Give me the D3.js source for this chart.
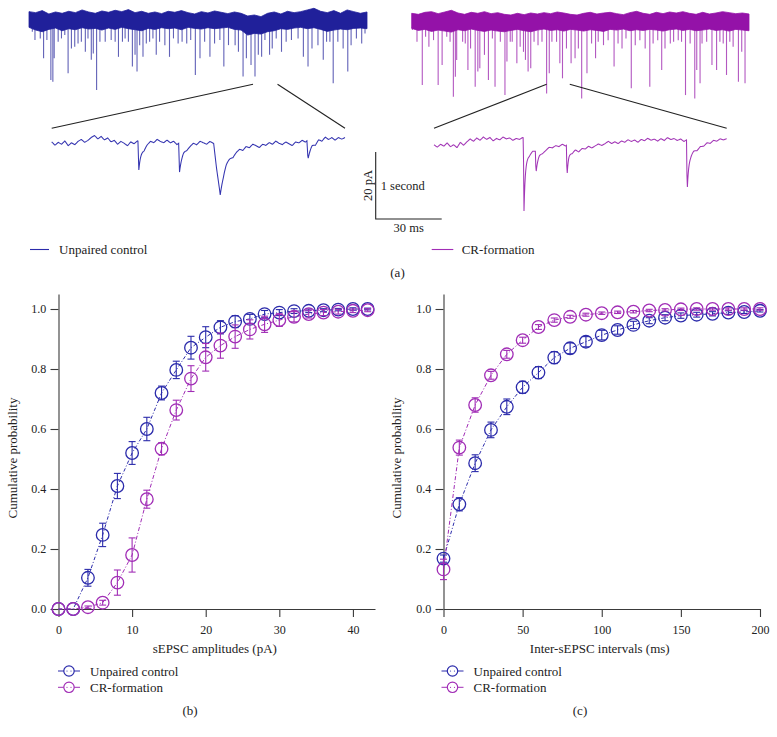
<!DOCTYPE html>
<html><head><meta charset="utf-8">
<script src="https://cdn.jsdelivr.net/npm/d3@7"></script>
<style>
html,body{margin:0;padding:0;background:#fff;}
</style></head>
<body><svg id="fig" width="777" height="737" font-family="'Liberation Serif','DejaVu Serif','Times New Roman',serif"></svg>
<script>
// ---------------- DATA ----------------
// Panel (b): cumulative probability vs sEPSC amplitude (pA)
const ampX = [0,2,4,6,8,10,12,14,16,18,20,22,24,26,28,30,32,34,36,38,40,42];
const ampCtrl    = [0,0,0.104,0.247,0.41,0.52,0.60,0.72,0.797,0.871,0.906,0.939,0.958,0.967,0.983,0.988,0.993,0.994,0.996,0.998,1.0,1.0];
const ampCtrlErr = [0,0,0.028,0.039,0.042,0.038,0.039,0.023,0.029,0.038,0.035,0.022,0.02,0.015,0.012,0.01,0.008,0.006,0.005,0.004,0.004,0.003];
const ampCR      = [0,0,0.006,0.021,0.088,0.18,0.366,0.534,0.663,0.768,0.839,0.878,0.908,0.932,0.949,0.963,0.974,0.983,0.988,0.991,0.994,0.996];
const ampCRErr   = [0,0,0.004,0.008,0.042,0.057,0.03,0.02,0.033,0.043,0.046,0.042,0.039,0.032,0.027,0.021,0.017,0.013,0.01,0.008,0.006,0.005];
const ampTicks = [0,10,20,30,40];

// Panel (c): cumulative probability vs inter-sEPSC interval (ms)
const intX = [0,10,20,30,40,50,60,70,80,90,100,110,120,130,140,150,160,170,180,190,200];
const intCtrl    = [0.168,0.349,0.486,0.597,0.674,0.739,0.788,0.838,0.869,0.891,0.913,0.93,0.947,0.961,0.971,0.978,0.981,0.984,0.988,0.99,0.994];
const intCtrlErr = [0.012,0.022,0.028,0.026,0.026,0.02,0.02,0.02,0.018,0.017,0.016,0.014,0.012,0.01,0.01,0.009,0.008,0.007,0.006,0.005,0.004];
const intCR      = [0.132,0.538,0.68,0.779,0.849,0.896,0.94,0.963,0.974,0.981,0.986,0.989,0.991,0.995,0.997,0.999,1.0,1.0,1.0,1.0,1.0];
const intCRErr   = [0.034,0.025,0.024,0.013,0.013,0.01,0.008,0.007,0.005,0.005,0.004,0.004,0.004,0.004,0.004,0.004,0.004,0.004,0.004,0.004,0.004];
const intTicks = [0,50,100,150,200];
const probTicks = [0,0.2,0.4,0.6,0.8,1.0];

const seriesNames = ["Unpaired control","CR-formation"];

// Panel (a): long recordings (time in s, current in pA relative to baseline), envelope every 0.1 s
const bandStep = 0.1;
const ctrlBandTop = [2.5,2.2,2.8,1.8,2.4,2.0,2.6,2.2,3.0,2.4,2.0,2.7,2.3,2.9,2.5,3.1,2.2,2.6,2.0,2.4,1.9,2.6,2.3,2.8,2.2,1.8,2.5,2.1,2.7,2.3,1.9,2.4,2.0,1.2,1.5,1.0,2.0,2.4,1.8,2.6,2.2,2.5,3.0,3.5,2.6,2.2,2.8,2.0,3.0,2.5,2.0,2.4];
const ctrlBandBot = [-2.2,-3.0,-3.5,-2.8,-2.4,-3.2,-2.6,-2.9,-2.3,-2.7,-2.5,-3.0,-2.4,-2.8,-2.2,-2.6,-2.9,-3.2,-2.5,-2.8,-2.3,-2.6,-2.4,-2.9,-2.2,-2.5,-2.7,-2.3,-2.6,-2.4,-2.2,-2.8,-3.0,-4.5,-4.0,-4.2,-3.5,-3.2,-2.6,-2.8,-2.4,-2.2,-2.6,-2.3,-2.8,-3.4,-3.0,-2.7,-2.9,-2.5,-2.4,-2.6];
const crBandTop = [2.5,2.2,2.8,3.0,2.4,2.9,3.4,2.6,2.2,2.8,2.5,3.0,2.4,2.7,2.2,2.0,2.5,2.1,2.6,2.3,2.7,2.4,2.9,2.6,2.2,2.0,2.5,2.8,2.3,2.6,2.8,2.4,2.1,2.7,3.1,2.5,2.2,2.8,2.4,2.9,2.6,3.0,2.5,2.2,2.8,2.3,2.6,3.0,2.7,2.4,2.6,2.3];
const crBandBot = [-2.0,-2.6,-2.3,-2.9,-2.5,-2.8,-3.1,-2.4,-2.7,-2.2,-2.6,-2.9,-2.5,-2.8,-3.0,-2.6,-2.3,-2.7,-3.0,-2.5,-2.2,-2.6,-2.4,-2.8,-2.3,-2.5,-2.8,-2.4,-2.6,-2.9,-2.3,-2.5,-2.2,-2.7,-2.4,-2.6,-2.3,-2.5,-2.8,-2.4,-2.2,-2.6,-2.3,-2.7,-2.5,-2.2,-2.6,-2.4,-2.8,-2.3,-2.5,-2.7];

const ctrlSpikeT = [0.05,0.09,0.17,0.22,0.27,0.33,0.36,0.38,0.44,0.49,0.54,0.59,0.64,0.69,0.74,0.79,0.85,0.89,0.94,0.97,1.02,1.07,1.15,1.24,1.30,1.35,1.41,1.45,1.50,1.56,1.60,1.63,1.67,1.72,1.77,1.82,1.87,1.92,1.97,2.05,2.12,2.18,2.25,2.31,2.38,2.44,2.51,2.58,2.65,2.73,2.80,2.88,2.94,3.01,3.11,3.16,3.23,3.28,3.35,3.41,3.46,3.51,3.56,3.63,3.67,3.73,3.81,3.88,3.96,4.06,4.14,4.21,4.27,4.36,4.44,4.49,4.54,4.59,4.66,4.74,4.81,4.86,4.94,5.02,5.07];
const ctrlSpikeAmp = [3.5,6.0,5.5,11.4,6.0,17.9,18.4,11.4,6.5,5.5,4.5,15.9,8.5,8.0,7.0,6.5,9.5,5.5,11.9,10.0,20.9,6.5,6.5,6.0,6.5,11.0,6.5,5.5,6.5,13.9,10.4,15.4,7.5,11.0,7.0,6.5,5.5,10.4,6.5,7.5,11.0,5.5,7.0,6.5,7.0,6.0,16.4,11.4,6.5,11.0,7.0,6.0,13.9,7.5,7.5,9.5,16.9,11.4,13.4,16.9,10.4,11.0,6.0,10.4,8.5,5.5,9.5,6.5,6.0,5.5,11.0,13.9,8.5,7.5,11.9,6.5,6.5,18.9,6.5,8.5,15.4,7.5,5.5,7.0,4.0];

const crSpikeT = [0.01,0.08,0.16,0.21,0.26,0.33,0.40,0.46,0.53,0.58,0.63,0.66,0.68,0.77,0.81,0.85,0.89,0.96,1.00,1.03,1.10,1.16,1.22,1.26,1.34,1.41,1.44,1.49,1.52,1.59,1.64,1.69,1.72,1.76,1.80,1.85,1.91,1.97,2.04,2.08,2.12,2.19,2.24,2.28,2.34,2.41,2.47,2.52,2.57,2.65,2.72,2.78,2.82,2.90,2.97,3.06,3.12,3.18,3.24,3.32,3.38,3.45,3.53,3.60,3.65,3.72,3.78,3.83,3.91,3.96,4.03,4.08,4.14,4.21,4.28,4.31,4.36,4.39,4.46,4.54,4.61,4.66,4.71,4.76,4.81,4.86,4.94,4.99,5.04];
const crSpikeAmp = [2.5,6.0,18.9,4.5,7.5,5.5,18.9,12.9,4.5,6.0,22.4,16.4,11.4,6.0,6.5,14.4,8.0,19.4,14.9,13.9,9.9,17.4,5.0,19.4,6.0,21.9,11.9,6.0,6.0,12.4,7.5,9.0,11.4,14.9,13.9,6.0,7.0,6.0,21.4,15.4,6.0,6.0,12.4,16.9,8.0,12.4,10.9,8.0,22.9,15.4,6.5,10.9,6.0,7.0,5.5,13.4,6.5,8.0,5.0,19.9,7.0,5.5,8.0,19.4,6.5,5.5,14.4,8.0,6.5,6.0,5.5,6.0,21.9,6.5,22.9,14.4,18.4,6.5,6.0,12.9,14.4,6.0,6.5,15.9,6.0,7.5,17.9,9.0,18.4];

// zoom windows on the long recordings (s)
const ctrlZoomWin = [3.38,3.75];
const crZoomWin = [2.04,2.39];

// inset baseline noise (pA), evenly spaced over the inset duration
const insetNoiseCtrl = [0.3,-0.4,0.2,-0.2,0.5,-0.5,0.1,-0.3,0.4,0.8,0.2,0.6,1.2,1.6,0.9,1.4,0.7,1.1,0.3,0.6,-0.2,0.4,0.0,-0.5,0.3,-0.1,0.5,0.2,-0.4,0.4,0.9,0.5,1.1,0.6,0.3,0.8,0.2,0.5,-0.2,0.3,0.6,0.1,0.5,0.9,0.4,1.0,0.6,0.2,0.7,0.3,-0.2,0.4,0.1,0.6,0.3,-0.3,0.2,0.5,0.0,0.6,0.2,0.8,0.4,-0.1,0.5,0.2,0.7,0.3,0.9,0.4,0.1,0.6,0.2,-0.2,0.5,0.3,0.8,0.4,1.0,1.5,0.9,1.7,1.2,1.9,1.3,1.6,1.0,1.5,1.1,1.4];
const insetNoiseCR = [-0.3,-0.8,-0.2,-0.6,0.1,-0.7,-0.3,-0.9,0.2,-0.4,0.3,0.9,0.4,1.1,0.6,1.3,0.8,1.2,0.5,1.0,0.7,1.3,0.9,1.1,0.6,1.0,0.8,1.2,0.7,0.4,0.9,0.5,1.0,0.6,0.8,1.1,0.7,0.9,0.5,0.8,0.3,0.7,0.1,0.5,-0.2,0.3,0.0,0.4,-0.1,0.2,0.5,0.1,0.4,0.8,0.3,0.6,0.2,0.7,0.4,0.9,0.5,0.8,0.3,0.9,0.6,1.1,0.7,0.9,0.5,1.0,0.6,1.2,0.8,1.0,0.6,0.9,0.4,0.8,0.3,0.6,0.2,0.7,0.5,1.0,0.7,1.2,0.9,1.3,1.0,1.2];

// inset events: onset (ms), amplitude (pA), rise (ms), fast tau (ms), slow fraction, slow tau (ms)
const ctrlEvT = [39.4,58.0,74.0,116.6];
const ctrlEvAmp = [8.5,8.8,15.7,5.8];
const ctrlEvRise = [0.4,0.4,3.0,0.5];
const ctrlEvTau = [1.0,1.4,2.5,1.5];
const ctrlEvSlow = [0.2,0.3,0.25,0.35];
const ctrlEvTauSlow = [6,8,14,8];

const crEvT = [40.9,46.4,60.6,115.6];
const crEvAmp = [21.7,6.5,9.5,15.7];
const crEvRise = [0.3,0.3,0.3,0.3];
const crEvTau = [0.6,0.8,0.6,0.7];
const crEvSlow = [0.25,0.35,0.3,0.3];
const crEvTauSlow = [10,8,10,7];

const insetDur = 134; // ms

// ---------------- DRAW ----------------
const FONT = "'Liberation Serif','DejaVu Serif','Times New Roman',serif";
const svg = d3.select("#fig");
const BLUE = "#2b2bab", MAG = "#a12db6";
const BLUE_T = "#20209a", MAG_T = "#9412a8";
const AX = "#3a3a3a";
function txt(sel){ return sel.style("font-family",FONT).attr("fill","#222"); }

// ===== Panel (a) =====
function longTrace(x0, x1, base, bandTop, bandBot, spT, spA, col) {
  const x = d3.scaleLinear().domain([0,5.1]).range([x0,x1]);
  const y = d3.scaleLinear().domain([-25,5]).range([base+25*3.35, base-5*3.35]);
  const g = svg.append("g");
  g.selectAll("line.sp").data(spT.map((t,i)=>({t,a:spA[i]}))).join("line")
    .attr("x1",d=>x(d.t)).attr("x2",d=>x(d.t))
    .attr("y1",y(-1.5)).attr("y2",d=>y(-d.a))
    .attr("stroke",col).attr("stroke-width",1.1).attr("opacity",0.7);
  const area = d3.area().x(d=>x(d.t)).y0(d=>y(d.b)).y1(d=>y(d.top)).curve(d3.curveLinear);
  g.append("path").datum(bandTop.map((v,i)=>({t:i*bandStep,top:v,b:bandBot[i]})))
    .attr("d",area).attr("fill",col).attr("stroke",col).attr("stroke-width",0.8);
  return {x,y};
}
function evSum(t, T, A, R, TF, SF, TS){
  let v=0;
  for(let i=0;i<T.length;i++){
    const dt=t-T[i];
    if(dt<0) continue;
    if(dt<R[i]) v -= A[i]*dt/R[i];
    else { const d=dt-R[i]; v -= A[i]*((1-SF[i])*Math.exp(-d/TF[i]) + SF[i]*Math.exp(-d/TS[i])); }
  }
  return v;
}
function insetTrace(x0, x1, base, noise, T, A, R, TF, SF, TS, col){
  const x = d3.scaleLinear().domain([0,insetDur]).range([x0,x1]);
  const y = d3.scaleLinear().domain([-25,5]).range([base+25*3.35, base-5*3.35]);
  const nx = d3.scaleLinear().domain([0,insetDur]).range([0,noise.length-1]);
  const pts=[];
  for(let t=0;t<=insetDur+1e-6;t+=0.2){
    const f=nx(t), i=Math.floor(f), fr=f-i;
    const n = i>=noise.length-1 ? noise[noise.length-1] : noise[i]*(1-fr)+noise[i+1]*fr;
    pts.push([t, n*1.45 + evSum(t,T,A,R,TF,SF,TS)]);
  }
  svg.append("path").datum(pts).attr("d", d3.line().x(d=>x(d[0])).y(d=>y(d[1])))
    .attr("fill","none").attr("stroke",col).attr("stroke-width",1.05);
  return {x,y};
}
const Lc = longTrace(29, 367, 20, ctrlBandTop, ctrlBandBot, ctrlSpikeT, ctrlSpikeAmp, BLUE_T);
const Lr = longTrace(411.7, 749, 21.7, crBandTop, crBandBot, crSpikeT, crSpikeAmp, MAG_T);
const Ic = insetTrace(51.7, 345, 143.3, insetNoiseCtrl, ctrlEvT, ctrlEvAmp, ctrlEvRise, ctrlEvTau, ctrlEvSlow, ctrlEvTauSlow, "#3434b0");
const Ir = insetTrace(434, 726.7, 143.3, insetNoiseCR, crEvT, crEvAmp, crEvRise, crEvTau, crEvSlow, crEvTauSlow, "#a236b6");

// zoom guide lines
function guides(L, I, win, yTop){
  [[win[0],0],[win[1],insetDur]].forEach(([t,ti])=>{
    svg.append("line").attr("x1",L.x(t)).attr("y1",L.y(yTop))
      .attr("x2",I.x(ti)).attr("y2",I.y(4.5))
      .attr("stroke","#222").attr("stroke-width",1.1);
  });
}
guides(Lc, Ic, ctrlZoomWin, -19.2);
guides(Lr, Ir, crZoomWin, -18.7);

// scale bar (20 pA, 30 ms / 1 s)
const sbx = 375.7, sby = 219;
svg.append("path").attr("d",`M${sbx},${sby-20*3.35}V${sby}H${sbx+30*2.2}`)
  .attr("fill","none").attr("stroke","#222").attr("stroke-width",1.1);
txt(svg.append("text").attr("transform",`translate(${sbx-4},${sby-20*3.35/2}) rotate(-90)`)
  .attr("text-anchor","middle").attr("font-size",12.5).text("20 pA"));
txt(svg.append("text").attr("x",sbx+5).attr("y",190).attr("font-size",12.5).text("1 second"));
txt(svg.append("text").attr("x",sbx+33).attr("y",232).attr("text-anchor","middle").attr("font-size",12.5).text("30 ms"));

// top legends
[[30,49,59,BLUE,seriesNames[0]],[431.7,453.3,461.7,MAG,seriesNames[1]]].forEach(([a,b,tx,c,name])=>{
  svg.append("line").attr("x1",a).attr("x2",b).attr("y1",249.5).attr("y2",249.5).attr("stroke",c).attr("stroke-width",1.1);
  txt(svg.append("text").attr("x",tx).attr("y",253.5).attr("font-size",13).text(name));
});
txt(svg.append("text").attr("x",397.5).attr("y",276.5).attr("text-anchor","middle").attr("font-size",13).text("(a)"));

// ===== Panels (b) and (c) =====
function cdfPanel(opts){
  const x = d3.scaleLinear().domain(opts.xdom).range(opts.xr);
  const y = d3.scaleLinear().domain([0,1.05]).range([609,294]);
  const g = svg.append("g");
  const xa = g.append("g").attr("transform","translate(0,609)")
    .call(d3.axisBottom(x).tickValues(opts.ticks).tickSize(8).tickSizeOuter(0).tickFormat(d3.format("d")));
  const ya = g.append("g").attr("transform",`translate(${opts.xr[0]},0)`)
    .call(d3.axisLeft(y).tickValues(probTicks).tickSize(8).tickSizeOuter(0).tickFormat(d3.format(".1f")));
  [xa,ya].forEach(a=>{
    a.attr("font-family",FONT);
    a.select(".domain").attr("stroke",AX).attr("stroke-width",1.1);
    a.selectAll(".tick line").attr("stroke",AX).attr("stroke-width",1.1);
    a.selectAll("text").style("font-family",FONT).attr("font-size",12).attr("fill","#222");
  });
  xa.selectAll("text").attr("dy","1.15em");
  ya.selectAll("text").attr("dx","-0.1em");
  txt(g.append("text").attr("x",(opts.xr[0]+opts.xr[1])/2 - 2).attr("y",653).attr("text-anchor","middle").attr("font-size",13).text(opts.xlabel));
  txt(g.append("text").attr("transform",`translate(${opts.ylabX},458) rotate(-90)`).attr("text-anchor","middle").attr("font-size",13).text("Cumulative probability"));

  const series = [[opts.ctrl,opts.ctrlErr,BLUE,"3.5,2,1,2"],[opts.cr,opts.crErr,MAG,"4,2,1,2"]];
  series.forEach(([vals,errs,col,dash])=>{
    const data = opts.xs.map((xv,i)=>({x:xv,v:vals[i],e:errs[i]}));
    g.append("path").datum(data).attr("d",d3.line().x(d=>x(d.x)).y(d=>y(d.v)))
      .attr("fill","none").attr("stroke",col).attr("stroke-width",1).attr("stroke-dasharray",dash);
    const eb = g.append("g").attr("stroke",col).attr("stroke-width",1.1);
    data.forEach(d=>{
      if(d.e<=0) return;
      const cx=x(d.x), y1=y(d.v-d.e), y2=y(d.v+d.e);
      eb.append("line").attr("x1",cx).attr("x2",cx).attr("y1",y1).attr("y2",y2);
      eb.append("line").attr("x1",cx-3.5).attr("x2",cx+3.5).attr("y1",y1).attr("y2",y1);
      eb.append("line").attr("x1",cx-3.5).attr("x2",cx+3.5).attr("y1",y2).attr("y2",y2);
    });
    g.selectAll(null).data(data).join("circle").attr("cx",d=>x(d.x)).attr("cy",d=>y(d.v)).attr("r",6.3)
      .attr("fill","none").attr("stroke",col).attr("stroke-width",1.3);
  });
  // legend
  const lx = opts.legX;
  [[BLUE,seriesNames[0],671],[MAG,seriesNames[1],687.3]].forEach(([col,name,ly])=>{
    g.append("line").attr("x1",lx).attr("x2",lx+22).attr("y1",ly).attr("y2",ly).attr("stroke",col).attr("stroke-width",1);
    g.append("circle").attr("cx",lx+11).attr("cy",ly).attr("r",5.2).attr("fill","#fff").attr("stroke",col).attr("stroke-width",1.2);
    [-2,2].forEach(dx=>g.append("circle").attr("cx",lx+11+dx).attr("cy",ly).attr("r",0.6).attr("fill",col));
    txt(g.append("text").attr("x",lx+32).attr("y",ly+4.5).attr("font-size",13).text(name));
  });
  txt(g.append("text").attr("x",opts.capX).attr("y",715).attr("text-anchor","middle").attr("font-size",13).text(opts.cap));
}
cdfPanel({xdom:[0,43], xr:[58.5,375], ticks:ampTicks, xs:ampX, ctrl:ampCtrl, ctrlErr:ampCtrlErr, cr:ampCR, crErr:ampCRErr,
  xlabel:"sEPSC amplitudes (pA)", ylabX:17, legX:58, cap:"(b)", capX:190});
cdfPanel({xdom:[0,200], xr:[443.5,760], ticks:intTicks, xs:intX, ctrl:intCtrl, ctrlErr:intCtrlErr, cr:intCR, crErr:intCRErr,
  xlabel:"Inter-sEPSC intervals (ms)", ylabX:401, legX:441.5, cap:"(c)", capX:580});
</script></body></html>
